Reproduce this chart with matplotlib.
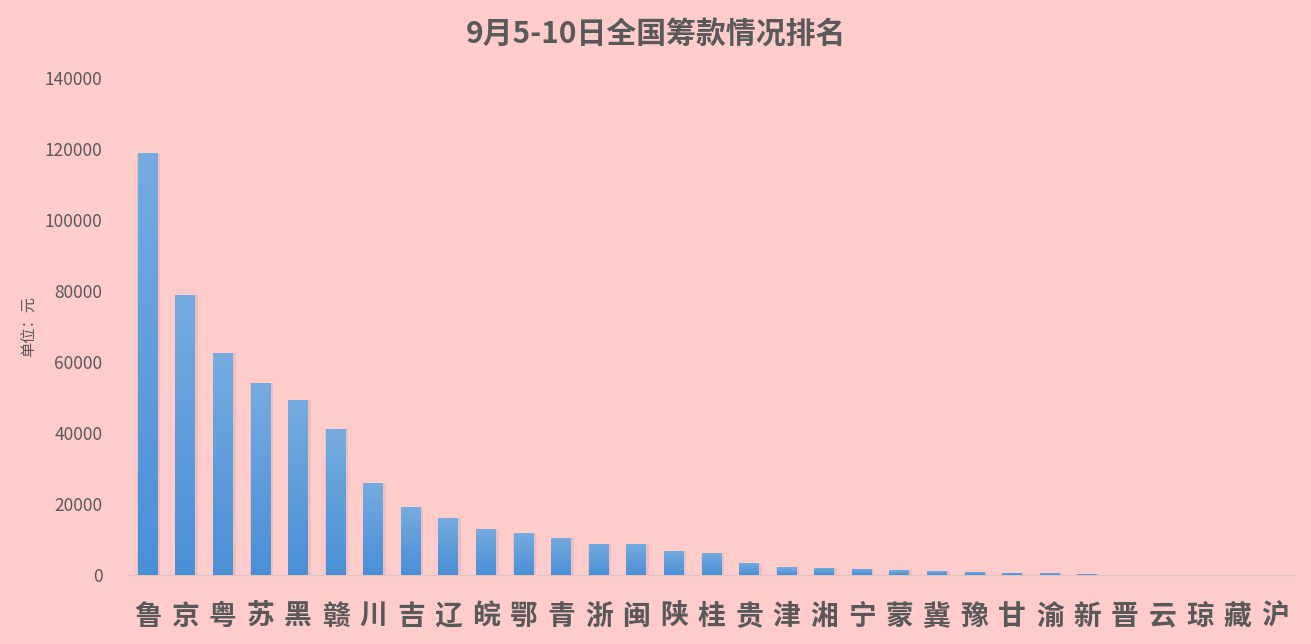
import matplotlib.pyplot as plt
import numpy as np

plt.rcParams['font.family'] = ['Noto Sans CJK SC', 'DejaVu Sans']

# data
provinces = ['鲁', '京', '粤', '苏', '黑', '赣', '川', '吉', '辽', '皖', '鄂', '青', '浙', '闽', '陕', '桂',
             '贵', '津', '湘', '宁', '蒙', '冀', '豫', '甘', '渝', '新', '晋', '云', '琼', '藏', '沪']
amounts = [119000, 79000, 62500, 54000, 49300, 41000, 26000, 19300, 16100, 13000, 11700, 10300, 8800, 8600,
           6800, 6300, 3400, 2250, 2050, 1700, 1300, 1000, 800, 600, 450, 400, 60, 40, 30, 20, 10]
y_ticks = [0, 20000, 40000, 60000, 80000, 100000, 120000, 140000]

bg = '#ffcccc'
text_color = '#595959'

fig = plt.figure(figsize=(13.11, 6.44), dpi=100)
fig.patch.set_facecolor(bg)
ax = fig.add_axes([0.0984, 0.1071, 0.8886, 0.7718])
ax.set_facecolor(bg)

x = np.arange(len(provinces))
width = 0.53
bars = ax.bar(x, amounts, width=width, color='#5b9bd5', zorder=2)

# vertical gradient like the Excel fill: lighter at top, darker at bottom
grad = np.linspace(0, 1, 256).reshape(-1, 1)
cmap = plt.matplotlib.colors.LinearSegmentedColormap.from_list('g', ['#4a8fd6', '#76abe0'])
for b in bars:
    bx, by = b.get_x(), b.get_y()
    bw, bh = b.get_width(), b.get_height()
    # soft shadow
    ax.bar(bx + bw / 2 + 0.03, bh, width=bw + 0.08, color='#b89a9e', alpha=0.25, zorder=1)
    im = ax.imshow(grad, cmap=cmap, aspect='auto', origin='lower',
                   extent=[bx, bx + bw, by, by + bh], zorder=3)
    im.set_clip_path(b)

ax.set_xlim(-0.5, len(provinces) - 0.5)
ax.set_ylim(0, 140000)
ax.set_yticks(y_ticks)
ax.set_yticklabels([str(v) for v in y_ticks], fontsize=12.5, color=text_color)
ax.set_xticks(x)
ax.set_xticklabels(provinces, fontsize=20, fontweight='bold', color=text_color)
ax.tick_params(axis='y', length=0, pad=19)
ax.tick_params(axis='x', length=0, pad=20)

for s in ['top', 'right', 'left']:
    ax.spines[s].set_visible(False)
ax.spines['bottom'].set_color('#e0c4c4')
ax.spines['bottom'].set_linewidth(1)

ax.set_ylabel('单位：元', fontsize=11, color=text_color)
ax.yaxis.set_label_coords(-0.078, 0.5)

fig.text(0.5, 0.946, '9月5-10日全国筹款情况排名', ha='center', va='center',
         fontsize=21.5, fontweight='bold', color=text_color)

plt.savefig('out.png', dpi=100, facecolor=bg)
